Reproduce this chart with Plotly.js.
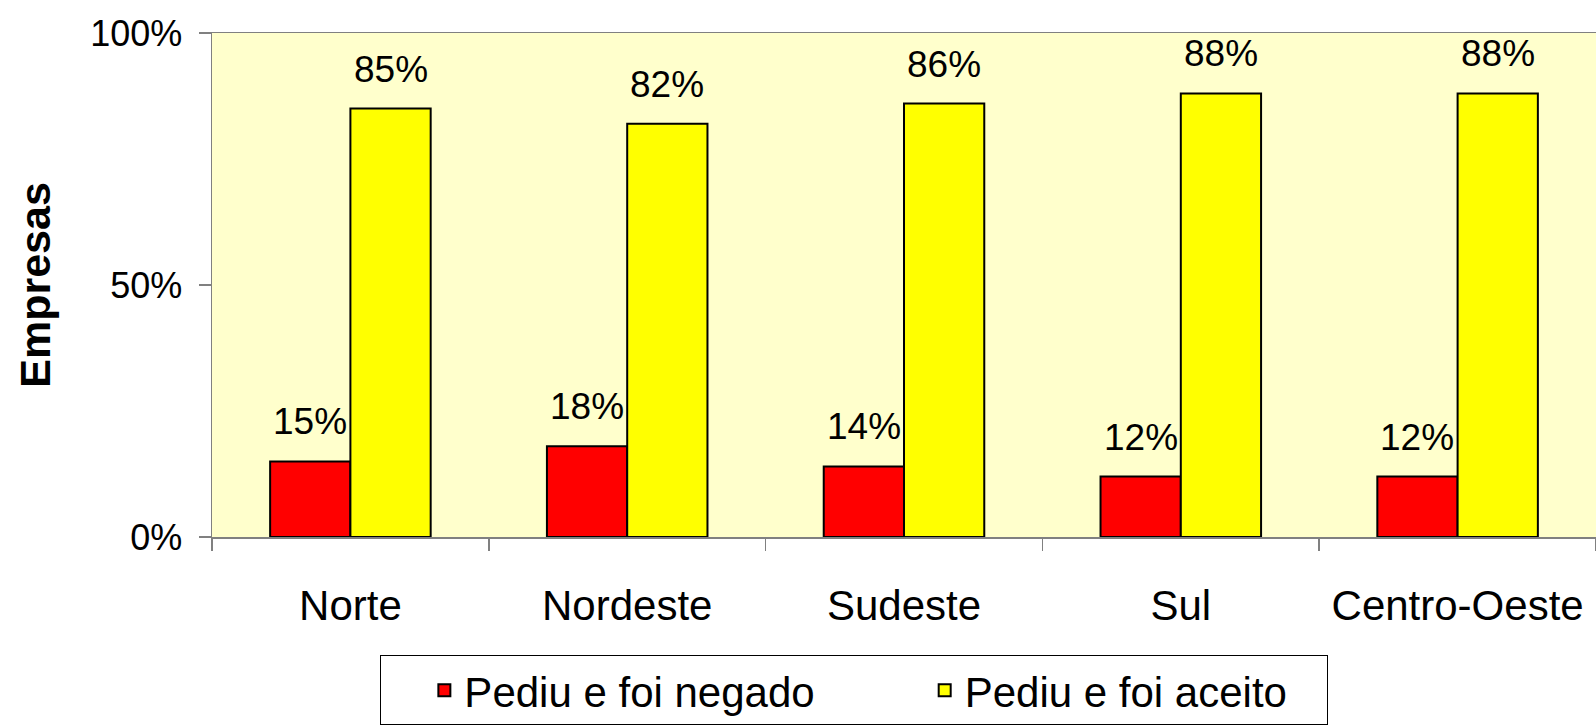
<!DOCTYPE html>
<html>
<head>
<meta charset="utf-8">
<script src="https://cdn.plot.ly/plotly-3.0.1.min.js"></script>
<style>
  html, body { margin: 0; padding: 0; background: #ffffff; }
  #chart { width: 1596px; height: 725px; }
</style>
</head>
<body>
<div id="chart"></div>
<script>
// ---- Data ----
const categorias = ['Norte', 'Nordeste', 'Sudeste', 'Sul', 'Centro-Oeste'];
const serieNegado = 'Pediu e foi negado';
const serieAceito = 'Pediu e foi aceito';
const negado = [15, 18, 14, 12, 12];
const aceito = [85, 82, 86, 88, 88];
const yTickVals = [0, 50, 100];
const yTickText = ['0%', '50%', '100%'];

// ---- Layout constants ----
const W = 1596, H = 725;
const M = { l: 212, r: 0, t: 33, b: 188, autoexpand: false };
const bargap = 0.42;
const FONT = '"Liberation Sans", Arial, Helvetica, sans-serif';
const NB = '\u00a0';

const plotW = W - M.l - M.r;
const catW = plotW / categorias.length;
const barW = catW * (1 - bargap) / 2;
const shift = barW / 2;

const traces = [
  {
    type: 'bar', name: serieNegado + NB.repeat(9), x: categorias, y: negado,
    marker: { color: '#FF0000', line: { color: '#000000', width: 2 } },
    hoverinfo: 'x+y'
  },
  {
    type: 'bar', name: serieAceito + NB.repeat(3), x: categorias, y: aceito,
    marker: { color: '#FFFF00', line: { color: '#000000', width: 2 } },
    hoverinfo: 'x+y'
  }
];

const annotations = [];
categorias.forEach((c, i) => {
  annotations.push({
    x: c, y: negado[i], xref: 'x', yref: 'y', text: negado[i] + '%',
    showarrow: false, xshift: -shift, yshift: 17, yanchor: 'bottom', xanchor: 'center',
    font: { family: FONT, size: 37, color: '#000000' }
  });
  annotations.push({
    x: c, y: aceito[i], xref: 'x', yref: 'y', text: aceito[i] + '%',
    showarrow: false, xshift: shift, yshift: 17, yanchor: 'bottom', xanchor: 'center',
    font: { family: FONT, size: 37, color: '#000000' }
  });
});

const layout = {
  width: W, height: H,
  margin: M,
  paper_bgcolor: '#FFFFFF',
  plot_bgcolor: '#FFFFCC',
  barmode: 'group',
  bargap: bargap,
  bargroupgap: 0,
  font: { family: FONT, color: '#000000' },
  showlegend: true,
  legend: {
    orientation: 'h',
    x: 0.1214, xanchor: 'left',
    y: -0.235, yanchor: 'top',
    bgcolor: '#FFFFFF', bordercolor: '#000000', borderwidth: 1,
    font: { family: FONT, size: 42, color: '#000000' },
    title: { text: NB + NB + NB, side: 'left', font: { family: FONT, size: 40 } }
  },
  xaxis: {
    type: 'category',
    showgrid: false, zeroline: false,
    showline: true, mirror: true, linecolor: '#808080', linewidth: 1.5,
    ticks: 'outside', tickson: 'boundaries', ticklen: 12, tickcolor: '#808080', tickwidth: 1.5,
    ticklabelstandoff: 31,
    tickfont: { family: FONT, size: 42, color: '#000000' },
    fixedrange: true
  },
  yaxis: {
    range: [0, 100],
    tickvals: yTickVals, ticktext: yTickText,
    showgrid: false, zeroline: false,
    showline: true, linecolor: '#808080', linewidth: 1.5,
    ticks: 'outside', ticklen: 12, tickcolor: '#808080', tickwidth: 1.5,
    ticklabelstandoff: 9,
    tickfont: { family: FONT, size: 36, color: '#000000' },
    title: { text: 'Empresas', font: { family: FONT, size: 43, color: '#000000', weight: 'bold' }, standoff: 26 },
    fixedrange: true
  },
  annotations: annotations
};

Plotly.newPlot('chart', traces, layout, { displayModeBar: false, staticPlot: true });
</script>
</body>
</html>
